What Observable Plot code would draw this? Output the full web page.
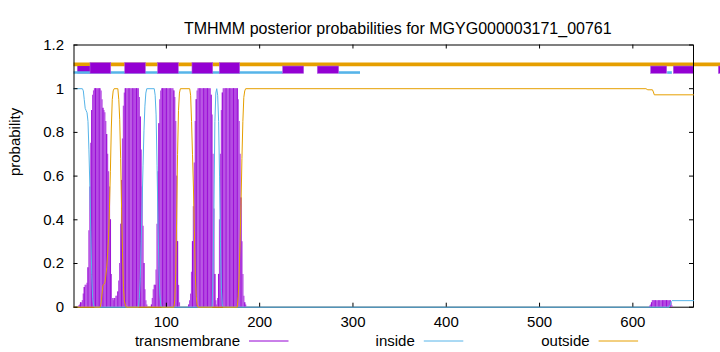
<!DOCTYPE html>
<html><head><meta charset="utf-8">
<script src="https://cdn.jsdelivr.net/npm/d3@7"></script>
<script src="https://cdn.jsdelivr.net/npm/@observablehq/plot@0.6"></script>
<style>
body{margin:0;background:#fff;}
#chart svg{display:block;}
</style></head><body><div id="chart"></div>
<script>
// ---------- data ----------
const title = "TMHMM posterior probabilities for MGYG000003171_00761";
const yLabel = "probability";
const seqStart = 1;
const seqEnd = 665;
const xTicks = [100, 200, 300, 400, 500, 600];
const yTicks = [0, 0.2, 0.4, 0.6, 0.8, 1, 1.2];
const seriesNames = ["transmembrane", "inside", "outside"];

// transmembrane posterior, one value per residue starting at residue 1
const tmNterm = [
  0,0,0,0,0, 0.005,0.01,0.02,0.02,0.03,
  0.06,0.09,0.1,0.1,0.11, 0.18,0.35,0.55,0.75,0.9,
  0.97,0.99,1,1,1, 1,1,1,1,0.99,
  0.95,0.91,0.9,0.89,0.85, 0.79,0.7,0.62,0.55,0.4,
  0.15,0.04,0.03,0.04,0.04, 0.05,0.05,0.07,0.12,0.2,
  0.38,0.58,0.77,0.92,0.98, 1,1,1,1,1,
  1,1,1,1,1, 1,1,1,1,1,
  0.96,0.87,0.72,0.55,0.37, 0.2,0.08,0.03,0.01,0,
  0,0,0,0.01,0.04, 0.08,0.1,0.1,0.17,0.38,
  0.62,0.84,0.95,0.99,1, 1,1,1,1,1,
  1,1,1,1,1, 1,1,0.99,0.96,0.85,
  0.6,0.3,0.1,0.02,0, 0,0,0,0,0,
  0,0,0,0.01,0.03, 0.06,0.16,0.3,0.46,0.66,
  0.85,0.95,0.99,1,1, 1,1,1,1,1,
  1,1,1,1,1, 1,1,0.97,0.88,0.7,
  0.45,0.15,0.03,0.01,0.04, 0.15,0.4,0.7,0.9,0.98,
  1,1,1,1,1, 1,1,1,1,1,
  1,1,1,1,1, 1,0.95,0.85,0.7,0.5,
  0.3,0.15,0.05,0.02,0.01, 0
];
// transmembrane posterior near the C terminus, starting at residue 618
const tmCtermStart = 618;
const tmCterm = [0.005,0.01,0.02,0.03,0.03,0.03,0.03,0.03,0.03,0.03,0.03,0.03,0.03,0.03,0.03,0.03,0.03,0.03,0.03,0.03,0.03,0.03,0.03,0.02,0.005];

// inside posterior (residue, probability)
const insideRes  = [1,10,11,12,13,14,15,16,17,18,19,20,21,22,23,70,71,72,73,74,75,76,77,78,79,87,88,89,90,91,92,93,94,95,149,150,151,152,153,154,155,156,157,158,159,160,161,639,640,641,642,665];
const insideProb = [1,1,0.99,0.95,0.91,0.9,0.89,0.85,0.72,0.55,0.35,0.15,0.04,0.01,0,0,0.04,0.13,0.3,0.47,0.65,0.81,0.92,0.98,1,1,0.97,0.88,0.65,0.4,0.18,0.06,0.01,0,0,0.15,0.45,0.85,0.98,1,0.97,0.85,0.6,0.3,0.08,0.01,0,0,0.01,0.025,0.03,0.03];

// outside posterior (residue, probability)
const outsideRes  = [1,29,30,31,32,34,35,36,37,38,39,40,41,42,43,44,48,49,50,51,52,53,54,55,56,57,108,109,110,111,112,113,114,115,125,126,127,128,129,130,131,132,133,134,176,177,178,179,180,181,182,183,184,185,614,616,621,622,623,665];
const outsideProb = [0,0,0.02,0.06,0.1,0.11,0.14,0.18,0.24,0.32,0.45,0.62,0.82,0.95,0.99,1,1,0.95,0.86,0.68,0.45,0.25,0.09,0.03,0.01,0,0,0.03,0.15,0.4,0.7,0.9,0.98,1,1,0.97,0.85,0.7,0.55,0.35,0.15,0.05,0.01,0,0,0.05,0.15,0.3,0.47,0.68,0.85,0.96,0.99,1,1,0.995,0.995,0.985,0.972,0.972];

// predicted topology strip (residue ranges)
const outsideSegments = [[1, 696]];
const insideSegments = [[1, 225.2], [285.2, 308.1], [637.3, 642.3]];
const leadBox = [[5.1, 18.7]];
const helixBoxes = [[18.7, 40.9], [55.9, 78], [91.2, 113.3], [128, 150.2], [157.3, 179.1]];
const extraBoxes = [[225.2, 247.7], [262.3, 285.2], [619.6, 636.8], [643.9, 665.3], [692.2, 705]];
const stripLevel = {outside: 1.1115, inside: 1.074, boxLow: 1.068, boxHigh: 1.117, boxShortHigh: 1.1015};

// ---------- build tables ----------
const tm = [];
tmNterm.forEach((p, i) => { if (p > 0) tm.push({r: seqStart + i, p}); });
tmCterm.forEach((p, i) => { if (p > 0) tm.push({r: tmCtermStart + i, p}); });
const inside = insideRes.map((r, i) => ({r, p: insideProb[i]}));
const outside = outsideRes.map((r, i) => ({r, p: outsideProb[i]}));

// ---------- style ----------
const FONT = "Liberation Sans, Arial, sans-serif";
const FS = 15;
const colTM = "#9400d3", colTMFill = "#b44ae2", colIn = "#56b4e9", colOut = "#e69f00";
const seriesColors = [colTM, colIn, colOut];
const W = 720, H = 352, mL = 73.5, mR = 27, mT = 44.5, mB = 45.3;
const fw = W - mL - mR, fh = H - mT - mB, tickLen = 4;

function legendMark() {
  const g = d3.create("svg:g").attr("font-family", FONT).attr("font-size", FS);
  seriesNames.forEach((name, i) => {
    const xEnd = 240 + i * 174.8;
    g.append("text").attr("x", xEnd).attr("y", 341).attr("dy", "0.35em")
      .attr("text-anchor", "end").attr("fill", "#000").text(name);
    g.append("line").attr("x1", xEnd + 9).attr("x2", xEnd + 48.5)
      .attr("y1", 341).attr("y2", 341).attr("stroke", seriesColors[i]).attr("stroke-width", 1);
  });
  return g.node();
}

const chart = Plot.plot({
  width: W, height: H,
  marginLeft: mL, marginRight: mR, marginTop: mT, marginBottom: mB,
  style: {fontFamily: FONT, fontSize: FS + "px", background: "#fff", color: "#000", overflow: "visible"},
  x: {domain: [seqStart, seqEnd], axis: null},
  y: {domain: [0, 1.2], axis: null},
  marks: [
    Plot.ruleY(outsideSegments, {x1: d => d[0], x2: d => d[1], y: () => stripLevel.outside, stroke: colOut, strokeWidth: 3.6}),
    Plot.rect(leadBox, {x1: d => d[0], x2: d => d[1], y1: () => stripLevel.boxLow, y2: () => stripLevel.boxShortHigh, fill: colTM}),
    Plot.ruleY(insideSegments, {x1: d => d[0], x2: d => d[1], y: () => stripLevel.inside, stroke: colIn, strokeWidth: 2.6}),
    Plot.rect(helixBoxes, {x1: d => d[0], x2: d => d[1], y1: () => stripLevel.boxLow, y2: () => stripLevel.boxHigh, fill: colTM, stroke: "#b060e0", strokeWidth: 0.6}),
    Plot.rect(extraBoxes, {x1: d => d[0], x2: d => d[1], y1: () => stripLevel.boxLow, y2: () => stripLevel.boxShortHigh, fill: colTM, stroke: "#b060e0", strokeWidth: 0.6}),
    Plot.frame({stroke: "#000", strokeWidth: 1}),
    Plot.ruleX(tm, {x: "r", y1: 0, y2: "p", stroke: colTMFill, strokeWidth: 1.3}),
    Plot.ruleX(tm.filter(d => d.r % 4 === 0), {x: "r", y1: 0, y2: "p", stroke: colTM, strokeWidth: 0.8}),
    Plot.line(inside, {x: "r", y: "p", stroke: colIn, strokeWidth: 1}),
    Plot.line(outside, {x: "r", y: "p", stroke: colOut, strokeWidth: 1}),
    // inward ticks on all four sides
    Plot.tickX(xTicks, {x: d => d, insetTop: fh - tickLen, stroke: "#000"}),
    Plot.tickX(xTicks, {x: d => d, insetBottom: fh - tickLen, stroke: "#000"}),
    Plot.tickY(yTicks, {y: d => d, insetRight: fw - tickLen, stroke: "#000"}),
    Plot.tickY(yTicks, {y: d => d, insetLeft: fw - tickLen, stroke: "#000"}),
    Plot.axisX({ticks: xTicks, tickSize: 0, tickPadding: 9, label: null, tickFormat: d => String(d), fontSize: FS}),
    Plot.axisY({ticks: yTicks, tickSize: 0, tickPadding: 10, label: null, tickFormat: d => String(d), fontSize: FS}),
    Plot.text([yLabel], {frameAnchor: "left", dx: -58.5, rotate: -90, text: d => d, fontSize: FS, fill: "#000"}),
    Plot.text([title], {frameAnchor: "top", dx: 14, dy: -22.5, text: d => d, fontSize: 16, fill: "#000"}),
    legendMark
  ]
});
document.getElementById("chart").appendChild(chart);
</script>
</body></html>
